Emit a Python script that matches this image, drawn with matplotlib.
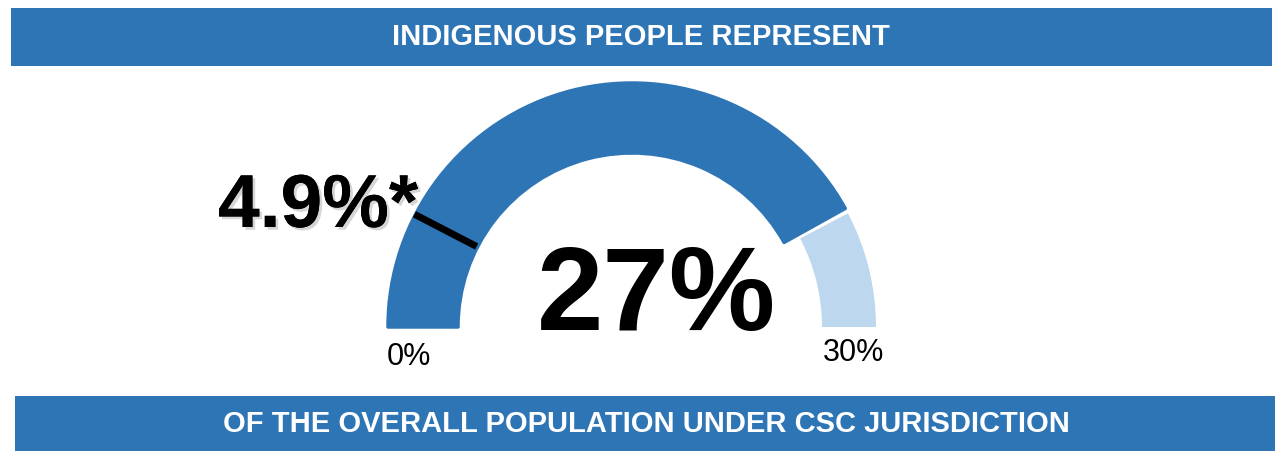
import matplotlib
matplotlib.use("Agg")
import matplotlib.pyplot as plt
from matplotlib.patches import Wedge, Rectangle
import matplotlib.patheffects as pe
import numpy as np

# ---- data ----
title_top = "INDIGENOUS PEOPLE REPRESENT"
title_bottom = "OF THE OVERALL POPULATION UNDER CSC JURISDICTION"
value = 27.0            # share of CSC population (%)
marker_value = 4.9      # share of overall population (%)
marker_label = "4.9%*"
value_label = "27%"
range_min, range_max = 0, 30
tick_labels = ["0%", "30%"]
gauge_span = 32.2       # visual span of the half-circle used by the original gauge

DARK = "#2E75B6"
LIGHT = "#BDD7EE"

plt.rcParams['font.family'] = ['Liberation Sans', 'DejaVu Sans']

W, H = 1275, 452
fig = plt.figure(figsize=(W / 100, H / 100), dpi=100)
ax = fig.add_axes([0, 0, 1, 1])
ax.set_xlim(0, W)
ax.set_ylim(0, H)
ax.set_aspect('equal')
ax.axis('off')

def Y(py):
    return H - py

def ang(v):
    return 180.0 * (1 - (v - range_min) / gauge_span)

# banners
ax.add_patch(Rectangle((11, Y(67)), 1261, 58, color=DARK, lw=0))
ax.text(641, Y(37), title_top, color='white', fontsize=21, fontweight='bold',
        ha='center', va='center')
ax.add_patch(Rectangle((15, Y(452)), 1260, 55, color=DARK, lw=0))
ax.text(646, Y(424), title_bottom, color='white', fontsize=21, fontweight='bold',
        ha='center', va='center')

# gauge
cx, cy = 632, Y(328)
R = 244
a_val = ang(value)
ax.add_patch(Wedge((cx, cy), 190 + 54, 0, a_val - 1.3, width=54,
                   facecolor=LIGHT, edgecolor='none'))
ax.add_patch(Wedge((cx, cy), R, a_val, 180, width=70,
                   facecolor=DARK, edgecolor=DARK, lw=2.5, joinstyle='round'))

# marker
am = np.deg2rad(ang(marker_value))
r1, r2 = R + 1, R - 69
ax.plot([cx + r1 * np.cos(am), cx + r2 * np.cos(am)],
        [cy + r1 * np.sin(am), cy + r2 * np.sin(am)],
        color='black', lw=5, solid_capstyle='butt')

# labels
ax.text(656, Y(330), value_label, fontsize=86, fontweight='bold', color='black',
        ha='center', va='baseline')
ax.text(218, Y(228), marker_label, fontsize=54, fontweight='bold', color='black',
        ha='left', va='baseline',
        path_effects=[pe.withSimplePatchShadow(offset=(2, -2), shadow_rgbFace='#999999', alpha=0.4),
                      pe.Normal()])
ax.text(387, Y(365), tick_labels[0], fontsize=22, color='black', ha='left', va='baseline')
ax.text(823, Y(361), tick_labels[1], fontsize=22, color='black', ha='left', va='baseline')

fig.savefig("out.png", dpi=100)
